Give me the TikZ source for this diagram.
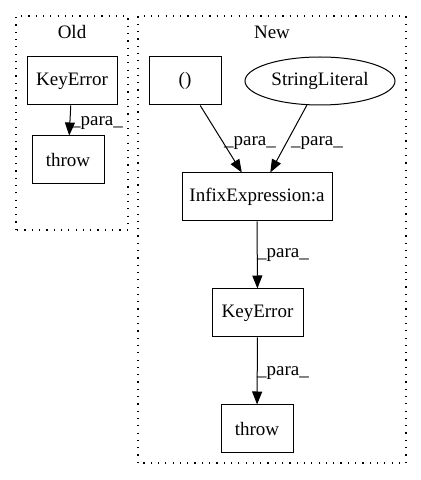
\documentclass[tikz,border=0pt]{standalone}
\usepackage{fontspec}
\setmainfont{Liberation Serif}
\usetikzlibrary{arrows.meta,shapes.geometric}
\begin{document}
\begin{tikzpicture}[x=1pt,y=1pt,
  every node/.style={font=\fontsize{19}{21}\selectfont},
  box/.style={draw,line width=1pt,rectangle,minimum height=48pt,inner sep=0pt},
  oval/.style={draw,line width=1pt,ellipse,minimum height=48pt,minimum width=150pt,inner sep=0pt},
  cluster/.style={draw,line width=1.2pt,dash pattern=on 1.2pt off 6.1pt},
  edge/.style={-{Triangle[length=13pt,width=10pt]},line width=1pt},
  lbl/.style={inner sep=0pt}]
\useasboundingbox (0,0) rectangle (421,480);
% clusters
\draw[cluster] (16,250) rectangle (128,464);
\draw[cluster] (138,17) rectangle (406,464);
\node[lbl] (oldlbl) at (72,448) {Old};
\node[lbl] (newlbl) at (272,448) {New};
% Old
\node[box,minimum width=90pt] (oke) at (72,399) {KeyError};
\node[box,minimum width=72pt] (othrow) at (68,320) {throw};
\draw[edge] (oke) -- (othrow);
\node[lbl,anchor=west] (l1) at (71,357) {\_para\_};
% New
\node[box,minimum width=72pt] (paren) at (185,399) {()};
\node[oval] (sl) at (320,399) {StringLiteral};
\node[box,minimum width=150pt] (infix) at (257,283) {InfixExpression:a};
\node[box,minimum width=91pt] (nke) at (257.5,167) {KeyError};
\node[box,minimum width=72pt] (nthrow) at (257,51) {throw};
\draw[edge] (paren) -- (infix);
\draw[edge] (sl) -- (infix);
\draw[edge] (infix) -- (nke);
\draw[edge] (nke) -- (nthrow);
\node[lbl] (l2) at (250,337) {\_para\_};
\node[lbl] (l3) at (317,337) {\_para\_};
\node[lbl,anchor=west] (l4) at (257,225) {\_para\_};
\node[lbl,anchor=west] (l5) at (257,107) {\_para\_};
\end{tikzpicture}
\end{document}
